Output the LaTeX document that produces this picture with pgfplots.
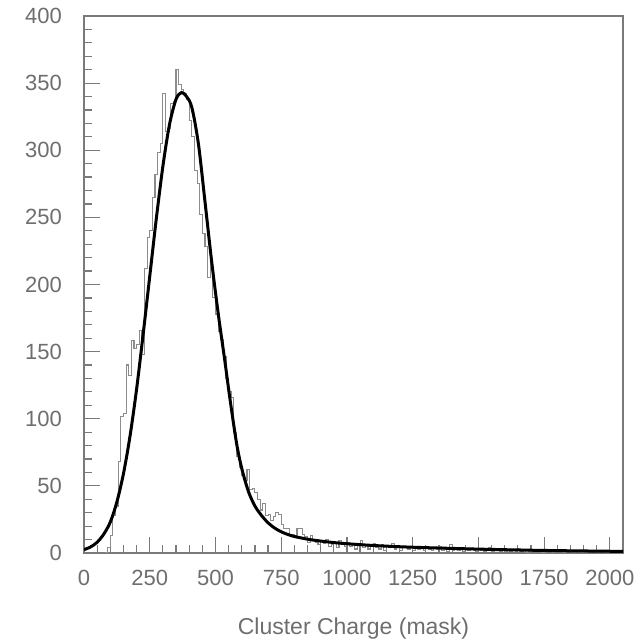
\documentclass[border=0pt]{standalone}
\usepackage{pgfplots}
\pgfplotsset{compat=1.18}
\usepackage{pgfplotstable}
\usepackage{fontspec}
\setmainfont{Liberation Sans}
\definecolor{txtgray}{HTML}{6E6E6E}
\definecolor{framegray}{HTML}{7A7A7A}
\definecolor{histgray}{HTML}{8C8C8C}

% charge histogram, 10-unit bins (left edge, entries)
\pgfplotstableread{
x y
80 0
90 4
100 13
110 28
120 35
130 68
140 102
150 104
160 140
170 132
180 158
190 152
200 155
210 166
220 148
230 212
240 235
250 240
260 265
270 282
280 298
290 305
300 342
310 314
320 316
330 335
340 336
350 360
360 349
370 345
380 342
390 338
400 322
410 310
420 285
430 275
440 252
450 238
460 228
470 205
480 216
490 190
500 178
510 165
520 159
530 146
540 130
550 120
560 116
570 90
580 72
590 64
600 58
610 54
620 62
630 47
640 48
650 45
660 40
670 32
680 37
690 28
700 29
710 24
720 27
730 30
740 29
750 21
760 18
770 18
780 13
790 14
800 12
810 18
820 18
830 14
840 12
850 8
860 13
870 9
880 8
890 6
900 9
910 7
920 10
930 5
940 6
950 8
960 4
970 9
980 6
990 5
1000 8
1010 5
1020 7
1030 3
1040 6
1050 9
1060 4
1070 6
1080 3
1090 5
1100 7
1110 4
1120 3
1130 6
1140 2
1150 5
1160 4
1170 7
1180 3
1190 4
1200 2
1210 5
1220 4
1230 3
1240 5
1250 2
1260 4
1270 3
1280 5
1290 2
1300 4
1310 3
1320 2
1330 4
1340 3
1350 5
1360 2
1370 3
1380 1
1390 6
1400 2
1410 3
1420 2
1430 4
1440 1
1450 3
1460 2
1470 3
1480 2
1490 1
1500 3
1510 2
1520 1
1530 2
1540 4
1550 1
1560 2
1570 2
1580 1
1590 3
1600 1
1610 2
1620 1
1630 2
1640 1
1650 3
1660 1
1670 2
1680 0
1690 1
1700 2
1710 1
1720 1
1730 2
1740 0
1750 1
1760 2
1770 1
1780 0
1790 2
1800 1
1810 1
1820 0
1830 2
1840 1
1850 1
1860 0
1870 1
1880 2
1890 0
1900 1
1910 1
1920 0
1930 1
1940 2
1950 0
1960 1
1970 1
1980 0
1990 1
2000 1
2010 0
2020 1
2030 1
2040 0
2050 0
}\histdata

% fitted curve
\pgfplotstableread{
x y
0 2.5
25 4.5
50 8
75 14
100 23
125 38
150 59
175 87
200 122
225 163
250 206
275 249
300 288
325 319
350 338
371 343
390 340
410 332
435 305
460 262
485 218
510 179
535 144
555 115
580 82
600 63
625 46
650 35
675 28
700 22.5
725 18.6
750 15.8
775 13.8
800 12.3
850 10.3
900 8.9
975 7.3
1100 5.6
1250 4.3
1500 2.9
1750 1.9
2050 1.2
}\fitdata

\begin{document}
\begin{tikzpicture}
\useasboundingbox (0,0) rectangle (319.5pt,320pt);
\begin{axis}[
    at={(42pt,43.5pt)}, anchor=south west,
    width=269.5pt, height=268.5pt, scale only axis,
    xmin=0, xmax=2050, ymin=0, ymax=400,
    xtick={0,250,...,2000}, ytick={0,50,...,400},
    minor x tick num=4, minor y tick num=4,
    xtick pos=bottom, ytick pos=left,
    tick align=inside,
    major tick length=8pt, minor tick length=4pt,
    every tick/.style={framegray, line width=0.6pt},
    axis line style={framegray, line width=0.6pt},
    /pgf/number format/assume math mode=true,
    /pgf/number format/1000 sep={},
    tick label style={font=\fontsize{11}{13}\selectfont, text=txtgray},
    yticklabel style={xshift=-7.5pt},
    xticklabel style={yshift=-5pt},
    xlabel={Cluster Charge (mask)},
    xlabel style={font=\fontsize{11.5}{14}\selectfont, text=txtgray,
        at={(axis description cs:0.5,0)}, anchor=center, yshift=-38pt},
    clip=true,
]
\addplot[histgray, line width=0.55pt, const plot mark left] table[x=x,y=y] {\histdata};
\addplot[black, line width=1.5pt, smooth, tension=0.5] table[x=x,y=y] {\fitdata};
\end{axis}
\end{tikzpicture}
\end{document}
